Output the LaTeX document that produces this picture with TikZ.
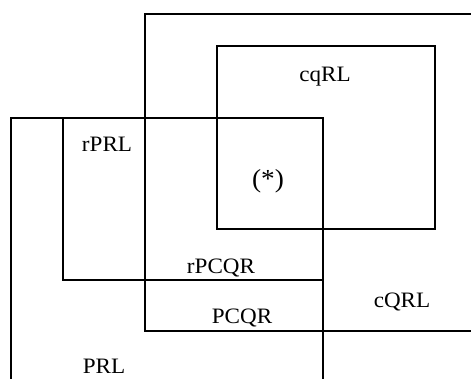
\documentclass[tikz,border=0pt]{standalone}
\usepackage{fontspec}
\setmainfont{Liberation Serif}[FakeStretch=1.05]
\begin{document}
\begin{tikzpicture}[x=1pt,y=-1pt,
  box/.style={draw=black,line width=1.8pt},
  lbl/.style={font=\fontsize{22}{26}\selectfont,inner sep=0pt}]
\useasboundingbox (0,0) rectangle (471,378);
\clip (0,0) rectangle (471,378);
% rectangles
\draw[box] (145,14) rectangle (490,331);
\draw[box] (217,46) rectangle (435,229);
\draw[box] (63,118) rectangle (323,280);
\draw[box] (11,118) rectangle (323,400);
% labels
\node[lbl] (cqrl) at (325,77) {cqRL};
\node[lbl,font=\fontsize{26}{30}\selectfont] (star) at (268,181) {(*)};
\node[lbl] (rprl) at (107,144) {rPRL};
\node[lbl] (rpcqr) at (221,268) {rPCQR};
\node[lbl] (pcqr) at (242,318) {PCQR};
\node[lbl] (cQRL) at (402,302) {cQRL};
\node[lbl] (prl) at (104,366) {PRL};
\end{tikzpicture}
\end{document}
